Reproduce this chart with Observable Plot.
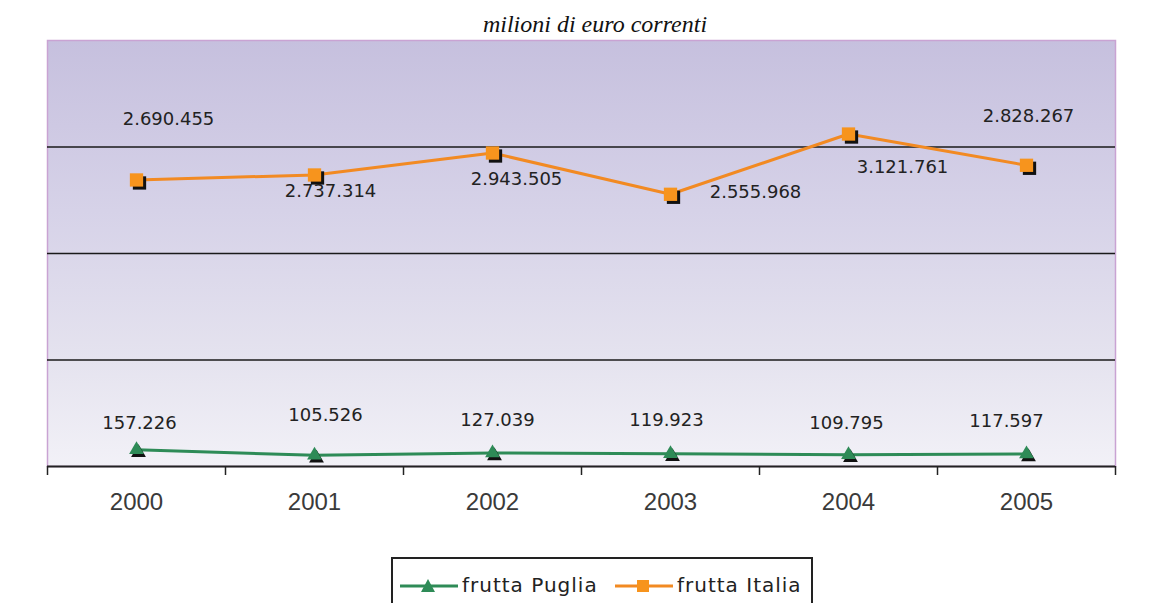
<!DOCTYPE html>
<html><head><meta charset="utf-8">
<script src="https://cdn.jsdelivr.net/npm/d3@7"></script>
<script src="https://cdn.jsdelivr.net/npm/@observablehq/plot@0.6"></script>
<style>
body{margin:0;background:#fff;width:1171px;height:603px;overflow:hidden;position:relative;font-family:"DejaVu Sans",sans-serif;}
#title{position:absolute;left:0;top:12px;width:1190px;text-align:center;font:italic 24px/24px "Liberation Serif",serif;color:#111;}
#chart{position:absolute;left:0;top:38px;}
#legend{position:absolute;left:391px;top:557px;width:418px;height:60px;border:2px solid #222;background:#fff;}
#legend .sw{position:absolute;top:17px;}
#legend .lb{position:absolute;top:14px;font:20px "DejaVu Sans",sans-serif;letter-spacing:1px;color:#222;white-space:nowrap;}
</style></head>
<body>
<svg width="0" height="0" style="position:absolute"><defs>
<linearGradient id="bg" x1="0" y1="0" x2="0" y2="1">
<stop offset="0" stop-color="#c6c0de"/>
<stop offset="0.4" stop-color="#d6d2e8"/>
<stop offset="0.75" stop-color="#e5e3ef"/>
<stop offset="1" stop-color="#f2f1f7"/>
</linearGradient></defs></svg>
<div id="title">milioni di euro correnti</div>
<div id="chart"></div>
<div id="legend">
  <svg class="sw" style="left:7px" width="60" height="20"><line x1="0" y1="10" x2="58" y2="10" stroke="#2e8b57" stroke-width="3"/><path d="M28,3 L35,16 L21,16 Z" fill="#2e8b57"/></svg>
  <span class="lb" style="left:69px">frutta Puglia</span>
  <svg class="sw" style="left:222px" width="60" height="20"><line x1="0" y1="10" x2="58" y2="10" stroke="#f28a22" stroke-width="3"/><rect x="22" y="4" width="12" height="12" fill="#f7941d"/></svg>
  <span class="lb" style="left:284px">frutta Italia</span>
</div>
<script>
// categories
const years = [2000, 2001, 2002, 2003, 2004, 2005];
// series values (milioni di euro correnti as labelled)
const pugliaValues = [157226, 105526, 127039, 119923, 109795, 117597];
const italiaValues = [2690455, 2737314, 2943505, 2555968, 3121761, 2828267];
// gridline values and category boundaries (tick positions)
const gridValues = [1000000, 2000000, 3000000];
const boundaries = [1999.5, 2000.5, 2001.5, 2002.5, 2003.5, 2004.5, 2005.5];
// label offsets (layout only)
const italiaLabelOffsets = [[32, -61], [16, 16], [24, 26], [85, -2], [54, 33], [2, -49]];
const pugliaLabelOffsets = [[3, -27], [11, -40], [5, -33], [-4, -33], [-2, -32], [-20, -33]];

const fmt = d3.formatLocale({decimal: ",", thousands: ".", grouping: [3], currency: ["", "€"]}).format(",d");
const italia = years.map((year, i) => ({year, value: italiaValues[i]}));
const puglia = years.map((year, i) => ({year, value: pugliaValues[i]}));

const labels = (data, offsets) => data.map((d, i) => Plot.text([d], {
  x: "year", y: "value", text: (e) => fmt(e.value),
  dx: offsets[i][0], dy: offsets[i][1],
  fontSize: 18, fontFamily: "DejaVu Sans", fill: "#222"
}));

const chart = Plot.plot({
  width: 1171,
  height: 500,
  marginLeft: 47,
  marginRight: 56,
  marginTop: 2,
  marginBottom: 72,
  style: {background: "transparent", color: "#222", fontFamily: "DejaVu Sans"},
  x: {domain: [1999.5, 2005.5], label: null},
  y: {domain: [0, 4000000], axis: null, label: null},
  marks: [
    Plot.frame({fill: "url(#bg)", stroke: "#c9a3d3", strokeWidth: 1.5}),
    Plot.ruleY(gridValues, {stroke: "#1a1a1a", strokeWidth: 1.6}),
    Plot.ruleY([0], {stroke: "#222", strokeWidth: 2}),
    Plot.axisX({ticks: boundaries, tickSize: 9, tickFormat: () => "", label: null, stroke: "#222", strokeWidth: 1.5}),
    Plot.axisX({ticks: years, tickSize: 0, tickPadding: 26, label: null, tickFormat: (d) => String(d), fontSize: 24, fontFamily: "Liberation Sans", fill: "#3a3a3a"}),
    Plot.line(italia, {x: "year", y: "value", stroke: "#f28a22", strokeWidth: 3}),
    Plot.line(puglia, {x: "year", y: "value", stroke: "#2e8b57", strokeWidth: 3}),
    Plot.dot(italia, {x: "year", y: "value", symbol: "square", r: 7.5, fill: "#111", dx: 3, dy: 3}),
    Plot.dot(italia, {x: "year", y: "value", symbol: "square", r: 7.5, fill: "#f7941d"}),
    Plot.dot(puglia, {x: "year", y: "value", symbol: "triangle", r: 5.5, fill: "#111", dx: 2, dy: 3}),
    Plot.dot(puglia, {x: "year", y: "value", symbol: "triangle", r: 5.5, fill: "#2e8b57"}),
    ...labels(italia, italiaLabelOffsets),
    ...labels(puglia, pugliaLabelOffsets)
  ]
});
document.getElementById("chart").appendChild(chart);
</script>
</body></html>
